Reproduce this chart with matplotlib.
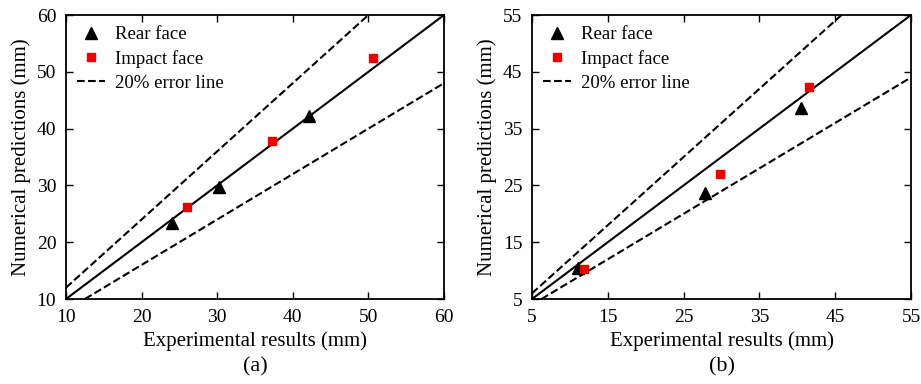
import matplotlib.pyplot as plt
import numpy as np

plt.rcParams['font.family'] = ['Liberation Serif', 'DejaVu Serif']

# panel (a)
rear_x_a = [24.0, 30.3, 42.1]
rear_y_a = [23.3, 29.8, 42.2]
imp_x_a = [26.0, 37.2, 50.6]
imp_y_a = [26.2, 37.8, 52.4]

# panel (b)
rear_x_b = [11.1, 27.8, 40.5]
rear_y_b = [10.5, 23.7, 38.6]
imp_x_b = [11.9, 29.8, 41.5]
imp_y_b = [10.3, 27.0, 42.3]

ticks_a = [10, 20, 30, 40, 50, 60]
ticks_b = [5, 15, 25, 35, 45, 55]
err = 0.2

fig = plt.figure(figsize=(9.21, 3.84), dpi=100)
ax_a = fig.add_axes([66 / 921, 85 / 384, 378 / 921, 284 / 384])
ax_b = fig.add_axes([532 / 921, 85 / 384, 379 / 921, 284 / 384])


def panel(ax, rx, ry, ix, iy, ticks, tag):
    lo, hi = ticks[0], ticks[-1]
    xs = np.array([lo, hi])
    ax.plot(rx, ry, '^', color='black', markersize=8, label='Rear face', zorder=3)
    ax.plot(ix, iy, 's', color='#ee0000', markersize=5.5, label='Impact face', zorder=3)
    ax.plot(xs, xs * (1 + err), '--', color='black', lw=1.5, label='20% error line')
    ax.plot(xs, xs, '-', color='black', lw=1.5)
    ax.plot(xs, xs * (1 - err), '--', color='black', lw=1.5)
    ax.set_xlim(lo, hi)
    ax.set_ylim(lo, hi)
    ax.set_xticks(ticks)
    ax.set_yticks(ticks)
    ax.tick_params(direction='in', top=True, right=True, length=5, width=1,
                   labelsize=14)
    ax.tick_params(axis='x', pad=7)
    ax.tick_params(axis='y', pad=7)
    for s in ax.spines.values():
        s.set_linewidth(1.3)
    ax.set_xlabel('Experimental results (mm)', fontsize=15, labelpad=4)
    ax.set_ylabel('Numerical predictions (mm)', fontsize=15, labelpad=4)
    ax.legend(loc='upper left', frameon=False, fontsize=13.5, handlelength=1.5,
              handletextpad=0.5, labelspacing=0.35, borderaxespad=0.2)
    ax.text(0.5, -0.24, tag, transform=ax.transAxes, ha='center', va='center', fontsize=16)


panel(ax_a, rear_x_a, rear_y_a, imp_x_a, imp_y_a, ticks_a, '(a)')
panel(ax_b, rear_x_b, rear_y_b, imp_x_b, imp_y_b, ticks_b, '(b)')

fig.savefig('out.png', dpi=100)
